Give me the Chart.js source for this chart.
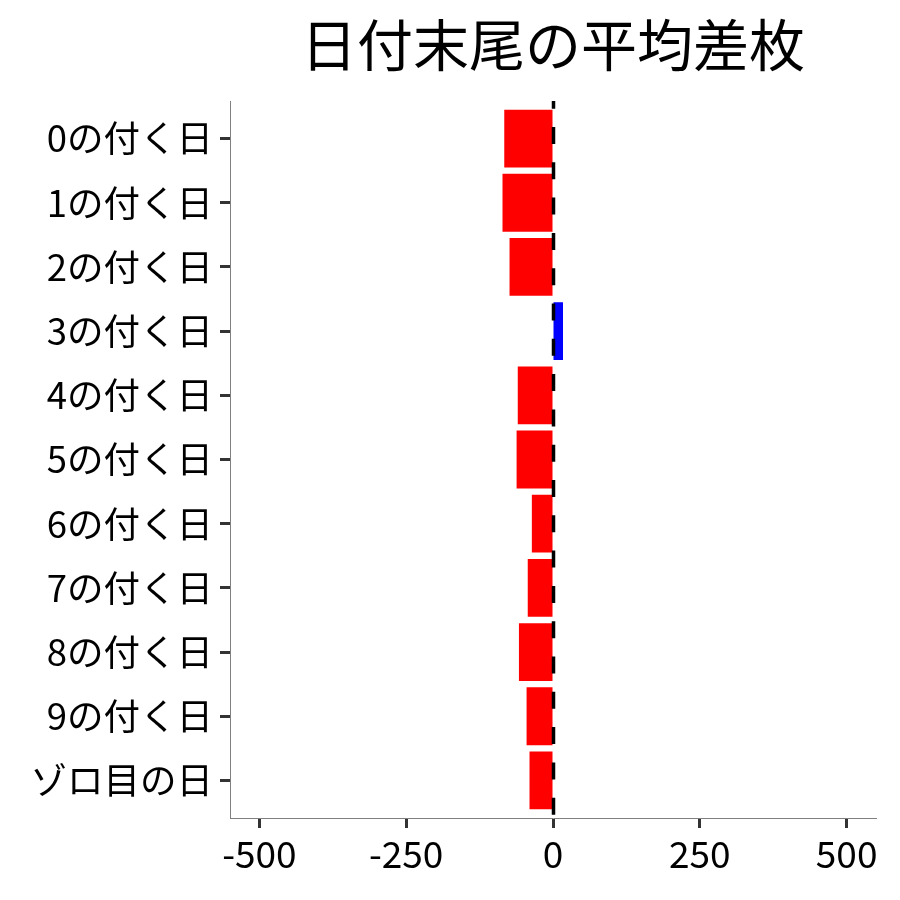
<!DOCTYPE html>
<html>
<head>
<meta charset="utf-8">
<script src="https://cdn.jsdelivr.net/npm/chart.js@4"></script>
<style>
  html, body { margin: 0; padding: 0; background: #ffffff; }
  #wrap { width: 900px; height: 900px; }
</style>
</head>
<body>
<div id="wrap"><canvas id="c" width="900" height="900"></canvas></div>
<script>
const TITLE = '日付末尾の平均差枚';
const categories = ['0の付く日','1の付く日','2の付く日','3の付く日','4の付く日','5の付く日','6の付く日','7の付く日','8の付く日','9の付く日','ゾロ目の日'];
const avgDiff = [-83, -86, -74, 17, -60, -62, -36, -43, -58, -45, -40];
const xTicks = [-500, -250, 0, 250, 500];

const FONT = '"Noto Sans CJK JP", "Noto Sans", sans-serif';

const points = avgDiff.map((v, i) => ({ x: v, y: i }));
const colors = avgDiff.map(v => v >= 0 ? '#0000FF' : '#FF0000');

const zeroLine = {
  id: 'zeroLine',
  afterDatasetsDraw(chart) {
    const { ctx, chartArea, scales } = chart;
    const x0 = scales.x.getPixelForValue(0);
    ctx.save();
    ctx.strokeStyle = '#000000';
    ctx.lineWidth = 3.5;
    ctx.setLineDash([17, 18.3]);
    ctx.lineDashOffset = 9.3;
    ctx.beginPath();
    ctx.moveTo(x0 + 0.5, chartArea.top);
    ctx.lineTo(x0 + 0.5, chartArea.bottom);
    ctx.stroke();
    ctx.restore();
  }
};

const centeredTitle = {
  id: 'centeredTitle',
  afterDraw(chart) {
    const { ctx, chartArea } = chart;
    ctx.save();
    ctx.fillStyle = '#000000';
    ctx.font = '56px ' + FONT;
    ctx.textAlign = 'center';
    ctx.textBaseline = 'middle';
    ctx.fillText(TITLE, (chartArea.left + chartArea.right) / 2, 45);
    ctx.restore();
  }
};

new Chart(document.getElementById('c'), {
  type: 'bar',
  data: {
    datasets: [{
      data: points,
      backgroundColor: colors,
      borderWidth: 0,
      barPercentage: 0.9,
      categoryPercentage: 1.0
    }]
  },
  options: {
    indexAxis: 'y',
    responsive: false,
    animation: false,
    devicePixelRatio: 1,
    layout: { padding: { top: 101, right: 24, left: 0, bottom: 0 } },
    plugins: {
      legend: { display: false },
      title: { display: false },
      tooltip: { enabled: false }
    },
    scales: {
      x: {
        type: 'linear',
        position: 'bottom',
        min: -550,
        max: 550,
        offset: false,
        afterBuildTicks: (scale) => { scale.ticks = xTicks.map(v => ({ value: v })); },
        afterFit: (scale) => { scale.height = 82; },
        border: { display: true, color: '#808080', width: 1 },
        grid: { offset: false, drawOnChartArea: false, drawTicks: true, tickLength: 10, tickColor: '#333333', tickWidth: 3 },
        ticks: {
          padding: 4,
          color: '#000000',
          font: { family: FONT, size: 37 },
          maxRotation: 0,
          callback: (v) => String(v)
        }
      },
      y: {
        type: 'linear',
        position: 'left',
        reverse: true,
        offset: false,
        min: -0.585,
        max: 10.585,
        afterBuildTicks: (scale) => { scale.ticks = categories.map((c, i) => ({ value: i })); },
        afterFit: (scale) => { scale.width = 230; },
        border: { display: true, color: '#808080', width: 1 },
        grid: { offset: false, drawOnChartArea: false, drawTicks: true, tickLength: 10, tickColor: '#333333', tickWidth: 3 },
        ticks: {
          padding: 7,
          color: '#000000',
          font: { family: FONT, size: 36.5 },
          autoSkip: false,
          callback: (v) => categories[v]
        }
      }
    }
  },
  plugins: [zeroLine, centeredTitle]
});
</script>
</body>
</html>
